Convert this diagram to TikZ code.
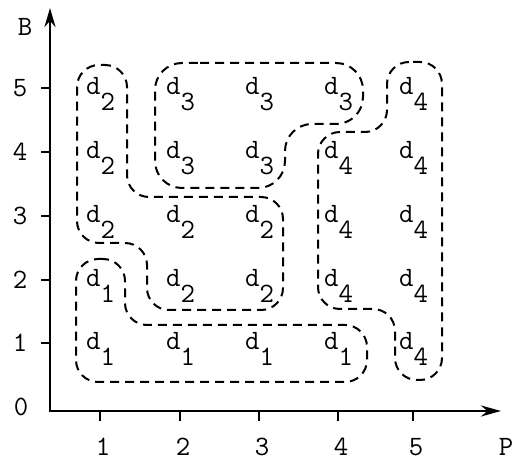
\documentclass[tikz,border=0pt]{standalone}
\usetikzlibrary{arrows.meta}
\begin{document}
\begin{tikzpicture}[x=1pt,y=-1pt,
  axis/.style={line width=2.6pt, line join=miter},
  tickmark/.style={line width=2pt},
  region/.style={line width=2pt, dash pattern=on 9pt off 6pt, rounded corners=22pt},
  lab/.style={font=\fontsize{28}{28}\selectfont\ttfamily, inner sep=0pt, anchor=base west},
  num/.style={font=\fontsize{28}{28}\selectfont\ttfamily, inner sep=0pt}]
\useasboundingbox (0,0) rectangle (512,462);
% axes
\coordinate (O) at (50,411);
\coordinate (Ytop) at (50,8);
\coordinate (Xend) at (501,411);
\draw[axis, {Stealth[length=19pt,width=11pt]}-{Stealth[length=20pt,width=11pt]}] (Ytop) -- (O) -- (Xend);
\foreach \i/\px in {1/100,2/180,3/259,4/338,5/413} {
  \draw[tickmark] (\px,411) -- (\px,421);
  \node[num] (xl\i) at (\px+3,447) {\i};
}
\foreach \i/\py in {1/343,2/280,3/216,4/152,5/88} {
  \draw[tickmark] (41,\py) -- (50,\py);
  \node[num] (yl\i) at (20,\py) {\i};
}
\node[num] (yl0) at (21,407) {0};
\node[num] (B) at (25,27) {B};
\node[num] (P) at (506,447) {P};
% labels
\foreach \row/\py/\vals in {5/88/{2,3,3,3,4}, 4/152/{2,3,3,4,4}, 3/216/{2,2,2,4,4}, 2/280/{1,2,2,4,4}, 1/343/{1,1,1,1,4}} {
  \foreach \v [count=\c] in \vals {
    \pgfmathsetmacro{\px}{{100,180,259,338,413}[\c-1]}
    \node[lab] (d\c\row) at (\px-14,\py+7) {d\raisebox{-16pt}{\v}};
  }
}
% regions
\draw[region] (102,65) -- (127,65) -- (127,197) -- (283,197) -- (283,310) -- (147,310) -- (147,243) -- (77,243) -- (77,65) -- (102,65);
\draw[region, rounded corners=27pt] (200,63) -- (363,63) -- (363,124) -- (285,124) -- (285,188) -- (155,188) -- (155,63) -- (200,63);
\draw[region] (413,62) -- (442,62) -- (442,380) -- (395,380) -- (395,309) -- (318,309) -- (318,132) -- (387,132) -- (387,62) -- (413,62);
\draw[region] (100,259) -- (125,259) -- (125,325) -- (367,325) -- (367,382) -- (76,382) -- (76,259) -- (100,259);
\end{tikzpicture}
\end{document}
